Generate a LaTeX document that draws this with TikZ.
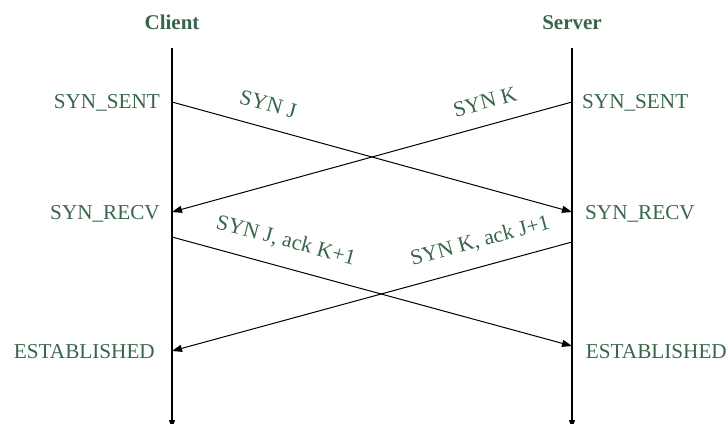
\documentclass[tikz,border=0pt]{standalone}
\usepackage{fontspec}
\setmainfont{Liberation Serif}
\usetikzlibrary{arrows.meta}
\definecolor{lbl}{RGB}{56,102,74}
\begin{document}
\begin{tikzpicture}[x=1pt,y=-1pt,
  lab/.style={text=lbl,font=\fontsize{21.2}{24}\selectfont,inner sep=0pt,text height=14pt,text depth=0pt},
  msglab/.style={lab,font=\fontsize{21.8}{24}\selectfont},
  head/.style={lab,font=\fontsize{21}{24}\selectfont\bfseries},
  msg/.style={draw=black,line width=1pt,-{Triangle[length=10pt,width=7pt]}},
  life/.style={draw=black,line width=1.1pt,-{Triangle[length=8pt,width=6pt]}}]
\useasboundingbox (0,0) rectangle (728,423);
% headers
\node[head] (client) at (172,22) {Client};
\node[head] (server) at (572,22) {Server};
% lifelines
\coordinate (ctop) at (172,48);
\coordinate (cbot) at (172,428);
\coordinate (stop) at (572,48);
\coordinate (sbot) at (572,428);
\draw[life] (ctop) -- (cbot);
\draw[life] (stop) -- (sbot);
% event points
\coordinate (c1) at (172,102);
\coordinate (s1) at (572,102);
\coordinate (c2) at (172,212);
\coordinate (s2) at (572,212);
\coordinate (c3) at (172,237);
\coordinate (s3) at (572,242);
\coordinate (c4) at (172,351);
\coordinate (s4) at (572,346);
% state labels
\node[lab,anchor=east] (csent) at (160,101) {SYN\_SENT};
\node[lab,anchor=west] (ssent) at (582,101) {SYN\_SENT};
\node[lab,anchor=east] (crecv) at (160,212) {SYN\_RECV};
\node[lab,anchor=west] (srecv) at (585,212) {SYN\_RECV};
\node[lab,anchor=east] (cest) at (155,351) {ESTABLISHED};
\node[lab,anchor=east] (sest) at (727,351) {ESTABLISHED};
% messages
\draw[msg] (c1) -- (s2);
\draw[msg] (s1) -- (c2);
\draw[msg] (c3) -- (s4);
\draw[msg] (s3) -- (c4);
% message labels
\node[msglab,rotate=-15] (synj) at (268,104) {SYN J};
\node[msglab,rotate=15] (synk) at (485,102) {SYN K};
\node[msglab,rotate=-15] (synjack) at (286,240) {SYN J, ack K+1};
\node[msglab,rotate=15] (synkack) at (480,240) {SYN K, ack J+1};
\end{tikzpicture}
\end{document}
